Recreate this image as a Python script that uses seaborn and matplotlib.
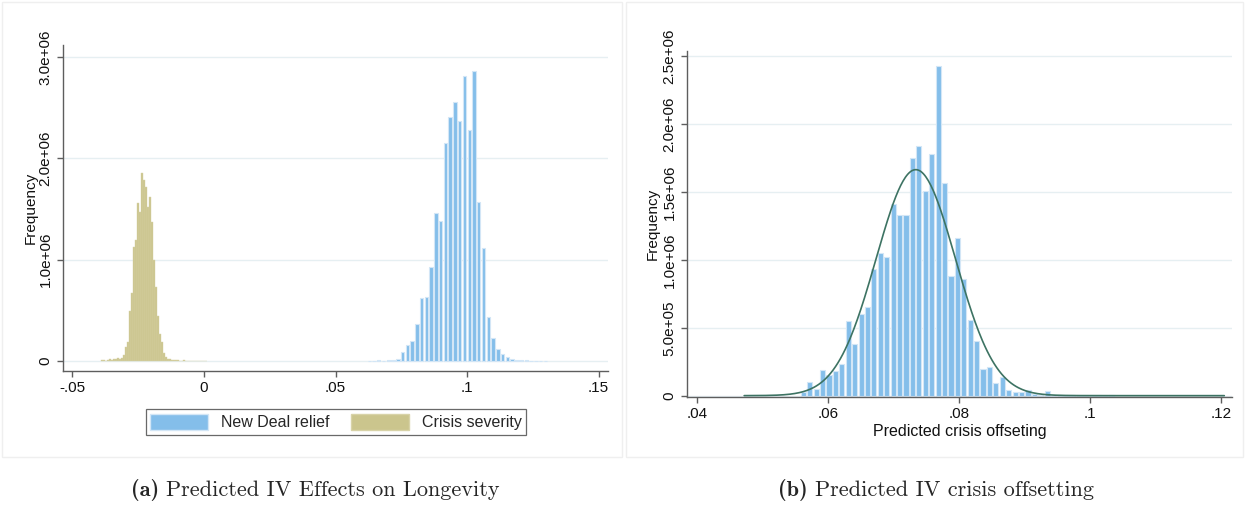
import numpy as np
import pandas as pd
import matplotlib
matplotlib.use("Agg")
import matplotlib.pyplot as plt
from matplotlib.patches import Patch, Rectangle
import seaborn as sns

# ---------------- Panel (a): predicted IV effects ----------------
relief_first_center = 0.06283
relief_bin_width = 0.00181
relief_counts = [4e3, 3e3, 5e3, 4e3, 6e3, 8e3, 20e3,
                 90e3, 160e3, 200e3, 370e3, 620e3, 630e3, 930e3,
                 1460e3, 1380e3, 2150e3, 2410e3, 2560e3, 2370e3,
                 2810e3, 2280e3, 2860e3, 1570e3, 1120e3, 430e3,
                 230e3, 120e3, 70e3, 40e3, 20e3, 10e3, 8e3, 5e3,
                 4e3, 3e3, 3e3, 2e3]

severity_first_center = -0.0389
severity_bin_width = 0.00076
severity_counts = [5e3, 10e3, 0, 10e3, 15e3, 10e3, 20e3, 15e3, 25e3, 20e3, 30e3,
                   60e3, 140e3, 190e3, 490e3, 670e3, 1130e3, 1190e3, 1560e3,
                   1470e3, 1860e3, 1790e3, 1720e3, 1520e3, 1620e3, 1370e3,
                   1000e3, 730e3, 440e3, 270e3, 190e3, 80e3, 40e3,
                   20e3, 15e3, 10e3, 5e3, 8e3, 5e3, 0, 4e3, 6e3, 4e3, 0,
                   3e3, 0, 0, 4e3, 0, 0, 3e3, 0, 2e3]

left_xticks = [-0.05, 0, 0.05, 0.1, 0.15]
left_xlabels = ["-.05", "0", ".05", ".1", ".15"]
left_yticks = [0, 1e6, 2e6, 3e6]
left_ylabels = ["0", "1.0e+06", "2.0e+06", "3.0e+06"]
legend_labels = ["New Deal relief", "Crisis severity"]

# ---------------- Panel (b): crisis offsetting ----------------
offset_first_center = 0.05623
offset_bin_width = 0.00098
offset_counts = [30e3, 100e3, 50e3, 190e3, 150e3, 180e3, 230e3, 550e3,
                 380e3, 600e3, 650e3, 930e3, 1050e3, 1020e3, 1410e3,
                 1330e3, 1330e3, 1750e3, 1840e3, 1510e3, 1780e3, 2430e3,
                 1570e3, 880e3, 1160e3, 860e3, 560e3, 400e3, 200e3,
                 210e3, 90e3, 140e3, 40e3, 25e3, 30e3, 40e3, 10e3, 5e3,
                 35e3, 0, 3e3, 5e3, 2e3, 3e3, 5e3, 5e3, 2e3, 0, 4e3]
offset_range = (0.0472, 0.1205)   # sample min / max
offset_mean = 0.0734              # moments of the full sample
offset_sd = 0.00605

right_xticks = [0.04, 0.06, 0.08, 0.1, 0.12]
right_xlabels = [".04", ".06", ".08", ".1", ".12"]
right_yticks = [0, 0.5e6, 1.0e6, 1.5e6, 2.0e6, 2.5e6]
right_ylabels = ["0", "5.0e+05", "1.0e+06", "1.5e+06", "2.0e+06", "2.5e+06"]
right_xlabel = "Predicted crisis offseting"

captions = [("(a)", "Predicted IV Effects on Longevity"),
            ("(b)", "Predicted IV crisis offsetting")]

# ---------------- styling ----------------
BLUE = "#84BEEA"
BLUE_EDGE = "#D3E6F6"
OLIVE = "#CBC58D"
OLIVE_EDGE = "#D8D3A8"
CURVE = "#3D7363"
AXIS = "#5E5E5E"
GRID = "#E6EFF2"

sns.set_theme(style="white")
plt.rcParams["font.family"] = ["Liberation Sans", "DejaVu Sans"]

W, H, DPI = 1246, 508, 100
fig = plt.figure(figsize=(W / DPI, H / DPI), dpi=DPI)
fig.patch.set_facecolor("white")


def px_axes(x0, y0, x1, y1):
    return fig.add_axes([x0 / W, 1 - y1 / H, (x1 - x0) / W, (y1 - y0) / H])


def binned_frame(first_center, width, counts):
    centers = first_center + width * np.arange(len(counts))
    lo = float(centers[0] - width / 2)
    hi = float(centers[-1] + width / 2)
    return pd.DataFrame({"x": centers, "n": np.asarray(counts, float)}), (lo, hi)


def style_axes(ax, xticks, xlabels, yticks, ylabels):
    for s in ("top", "right"):
        ax.spines[s].set_visible(False)
    for s in ("left", "bottom"):
        ax.spines[s].set_color(AXIS)
        ax.spines[s].set_linewidth(1.0)
    ax.set_xticks(xticks)
    ax.set_xticklabels(xlabels)
    ax.set_yticks(yticks)
    ax.set_yticklabels(ylabels, rotation=90, va="center")
    ax.tick_params(axis="both", which="major", direction="out", length=4,
                   width=1.0, color=AXIS, labelsize=11, labelcolor="#111111",
                   pad=3.5, left=True, bottom=True)
    ax.grid(False)
    for yv in yticks:
        ax.axhline(yv, color=GRID, lw=1.0, zorder=0)
    ax.set_ylabel("Frequency", fontsize=11, color="#111111")


def bar_hist(ax, df, width, rng, color, edge, lw, shrink):
    sns.histplot(data=df, x="x", weights="n", binwidth=width, binrange=rng,
                 ax=ax, color=color, edgecolor=edge, linewidth=lw, alpha=1,
                 shrink=shrink, zorder=2)


# ---- panel borders ----
fig.patches.append(Rectangle((2 / W, 1 - 457 / H), 620 / W, 455 / H,
                             transform=fig.transFigure, fill=False,
                             edgecolor="#EFEFEF", lw=1.0))
fig.patches.append(Rectangle((626 / W, 1 - 457 / H), 617 / W, 455 / H,
                             transform=fig.transFigure, fill=False,
                             edgecolor="#EFEFEF", lw=1.0))

# ---- panel (a) ----
axL = px_axes(63, 45, 608, 371)
df_rel, r_rel = binned_frame(relief_first_center, relief_bin_width, relief_counts)
df_sev, r_sev = binned_frame(severity_first_center, severity_bin_width, severity_counts)
bar_hist(axL, df_rel, relief_bin_width, r_rel, BLUE, BLUE_EDGE, 0.8, 0.72)
bar_hist(axL, df_sev, severity_bin_width, r_sev, OLIVE, OLIVE_EDGE, 0.3, 1.0)
axL.set_xlim(-0.0536, 0.1536)
axL.set_ylim(-0.0987e6, 3.12e6)
style_axes(axL, left_xticks, left_xlabels, left_yticks, left_ylabels)
axL.set_xlabel("")
axL.yaxis.set_label_coords(-0.047, 0.5)

handles = [Patch(facecolor=BLUE, edgecolor=BLUE_EDGE, lw=1.0),
           Patch(facecolor=OLIVE, edgecolor=OLIVE_EDGE, lw=1.0)]
leg = fig.legend(handles, legend_labels, loc="center",
                 bbox_to_anchor=(336 / W, 1 - 422 / H), ncol=2,
                 fontsize=11.5, frameon=True, fancybox=False,
                 handlelength=3.6, handleheight=1.15, handletextpad=0.8,
                 columnspacing=1.4, borderpad=0.3, borderaxespad=0)
leg.get_frame().set_edgecolor("#444444")
leg.get_frame().set_linewidth(0.9)

# ---- panel (b) ----
axR = px_axes(687, 51, 1232, 397)
df_off, r_off = binned_frame(offset_first_center, offset_bin_width, offset_counts)
bar_hist(axR, df_off, offset_bin_width, r_off, BLUE, BLUE_EDGE, 0.8, 0.8)

# normal density overlay, scaled to frequency per bin
n_tot = df_off["n"].sum()
xs = np.linspace(offset_range[0], offset_range[1], 400)
dens = (n_tot * offset_bin_width
        * np.exp(-0.5 * ((xs - offset_mean) / offset_sd) ** 2)
        / (offset_sd * np.sqrt(2 * np.pi)))
sns.lineplot(x=xs, y=dens, ax=axR, color=CURVE, lw=1.2, zorder=3)

axR.set_xlim(0.03847, 0.12168)
axR.set_ylim(-0.01e6, 2.54e6)
style_axes(axR, right_xticks, right_xlabels, right_yticks, right_ylabels)
axR.set_xlabel(right_xlabel, fontsize=11.5, color="#111111", labelpad=2)
axR.yaxis.set_label_coords(-0.05, 0.5)

# ---- captions ----
renderer = fig.canvas.get_renderer()
cap_size = 16
for (tag, text), cx in zip(captions, (315, 936)):
    y = 1 - 490 / H
    t1 = fig.text(0, y, tag, fontfamily="cmb10", fontsize=cap_size, va="center")
    t2 = fig.text(0, y, text, fontfamily="cmr10", fontsize=cap_size, va="center")
    w1 = t1.get_window_extent(renderer).width
    w2 = t2.get_window_extent(renderer).width
    gap = 0.3 * cap_size * DPI / 72
    x0 = cx - (w1 + gap + w2) / 2
    t1.set_x(x0 / W)
    t2.set_x((x0 + w1 + gap) / W)

fig.savefig("out.png", dpi=DPI, facecolor="white")
